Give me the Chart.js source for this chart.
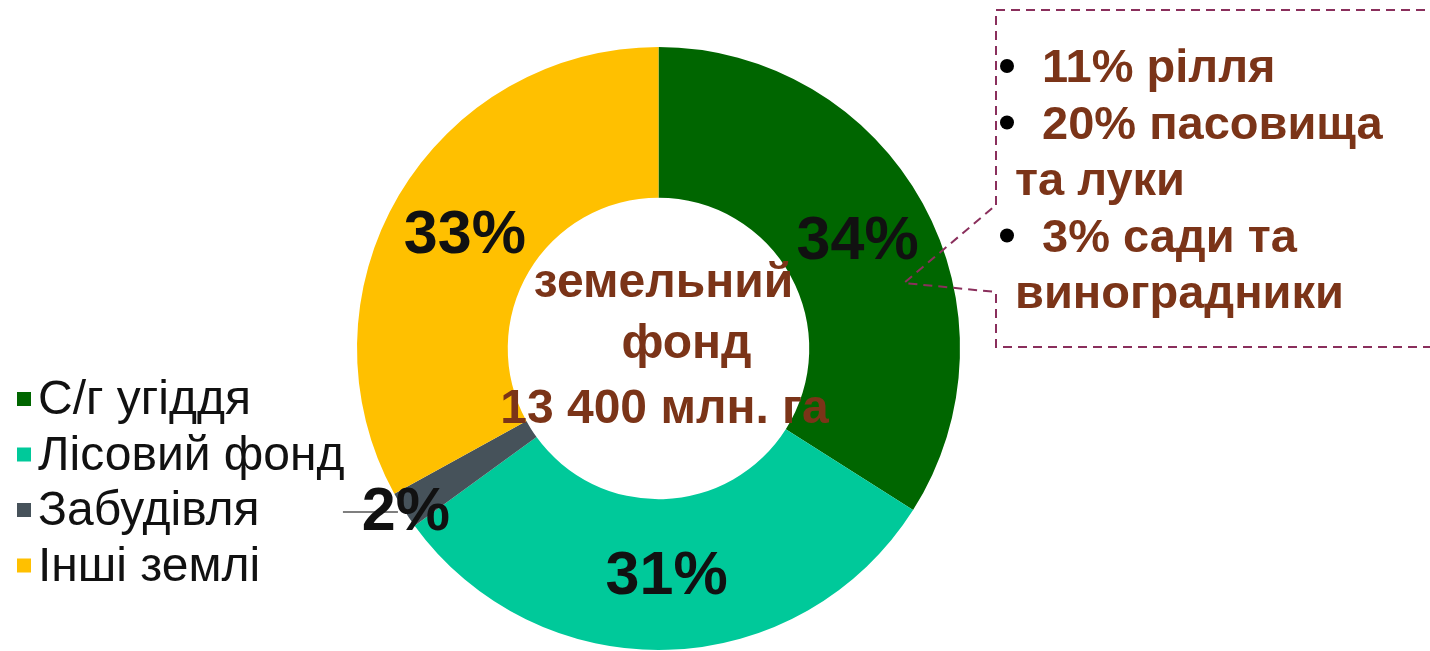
<!DOCTYPE html>
<html>
<head>
<meta charset="utf-8">
<script src="https://cdn.jsdelivr.net/npm/chart.js@4/dist/chart.umd.min.js"></script>
<style>
  html, body { margin: 0; padding: 0; background: #ffffff; }
  #wrap { position: relative; width: 1430px; height: 651px; }
</style>
</head>
<body>
<div id="wrap"><canvas id="c"></canvas></div>
<script>
// ---- data ----
const categories = ['С/г угіддя', 'Лісовий фонд', 'Забудівля', 'Інші землі'];
const shares = [34, 31, 2, 33];
const sliceColors = ['#006600', '#00C99A', '#46525A', '#FFC000'];
const centerLines = ['земельний', '   фонд', '13 400 млн. га'];
const calloutLines = [
  { bullet: true,  text: '11% рілля' },
  { bullet: true,  text: '20% пасовища' },
  { bullet: false, text: 'та луки' },
  { bullet: true,  text: '3% сади та' },
  { bullet: false, text: 'виноградники' }
];

const FONT = '"Liberation Sans", Arial, sans-serif';
const BROWN = '#7B3418';

const overlay = {
  id: 'overlay',
  afterDatasetsDraw(chart) {
    const ctx = chart.ctx;
    const meta = chart.getDatasetMeta(0);
    const ds = chart.data.datasets[0];

    // percentage labels
    ctx.save();
    ctx.font = 'bold 61px ' + FONT;
    ctx.fillStyle = '#111111';
    ctx.textAlign = 'center';
    ctx.textBaseline = 'middle';
    meta.data.forEach((arc, i) => {
      const p = arc.getProps(['x', 'y', 'startAngle', 'endAngle', 'innerRadius', 'outerRadius'], true);
      const mid = (p.startAngle + p.endAngle) / 2;
      const label = ds.data[i] + '%';
      if (ds.data[i] < 5) {
        const r = p.outerRadius;
        const lx = p.x + Math.cos(mid) * r + 2;
        const ly = p.y + Math.sin(mid) * r + 2;
        ctx.save();
        ctx.strokeStyle = '#555555';
        ctx.lineWidth = 1.5;
        ctx.beginPath();
        ctx.moveTo(lx - 63, ly);
        ctx.lineTo(lx - 8, ly);
        ctx.stroke();
        ctx.restore();
        ctx.fillText(label, lx, ly + 1);
      } else {
        const r = (p.innerRadius + p.outerRadius) / 2;
        ctx.fillText(label, p.x + Math.cos(mid) * r + 1, p.y + Math.sin(mid) * r + 3);
      }
    });
    ctx.restore();

    // centre text
    const c = meta.data[0];
    ctx.save();
    ctx.font = 'bold 48px ' + FONT;
    ctx.fillStyle = BROWN;
    ctx.textAlign = 'center';
    ctx.textBaseline = 'alphabetic';
    ctx.fillText(centerLines[0], c.x + 5, c.y - 52);
    ctx.fillText(centerLines[1].trim(), c.x + 28, c.y + 9);
    ctx.fillText(centerLines[2], c.x + 6, c.y + 74);
    ctx.restore();

    // callout box
    ctx.save();
    ctx.strokeStyle = '#8A2F5C';
    ctx.lineWidth = 2;
    ctx.setLineDash([9, 6]);
    ctx.beginPath();
    ctx.moveTo(996, 205);
    ctx.lineTo(996, 10);
    ctx.lineTo(1432, 10);
    ctx.moveTo(1432, 347);
    ctx.lineTo(996, 347);
    ctx.lineTo(996, 292);
    ctx.lineTo(904, 283);
    ctx.lineTo(996, 205);
    ctx.stroke();
    ctx.restore();

    // callout text
    ctx.save();
    ctx.textBaseline = 'alphabetic';
    ctx.textAlign = 'left';
    calloutLines.forEach((ln, i) => {
      const y = 82 + i * 56.5;
      ctx.font = 'bold 47px ' + FONT;
      if (ln.bullet) {
        ctx.fillStyle = '#000000';
        ctx.beginPath();
        ctx.arc(1007, y - 16, 7, 0, Math.PI * 2);
        ctx.fill();
        ctx.fillStyle = BROWN;
        ctx.fillText(ln.text, 1042, y);
      } else {
        ctx.fillStyle = BROWN;
        ctx.fillText(ln.text, 1015, y);
      }
    });
    ctx.restore();

    // legend
    ctx.save();
    ctx.font = '48px ' + FONT;
    ctx.textBaseline = 'middle';
    ctx.textAlign = 'left';
    chart.data.labels.forEach((lab, i) => {
      const y = 399 + i * 55.5;
      ctx.fillStyle = ds.backgroundColor[i];
      ctx.fillRect(17, y - 7, 14, 14);
      ctx.fillStyle = '#111111';
      ctx.fillText(lab, 38, y + 2);
    });
    ctx.restore();
  }
};

new Chart(document.getElementById('c'), {
  type: 'doughnut',
  data: {
    labels: categories,
    datasets: [{
      data: shares,
      backgroundColor: sliceColors,
      borderWidth: 0,
      hoverOffset: 0
    }]
  },
  options: {
    responsive: true,
    maintainAspectRatio: false,
    animation: false,
    cutout: '50%',
    rotation: 0,
    layout: { padding: { left: 357, right: 470, top: 47, bottom: 1 } },
    plugins: {
      legend: { display: false },
      tooltip: { enabled: false }
    }
  },
  plugins: [overlay]
});
</script>
</body>
</html>
